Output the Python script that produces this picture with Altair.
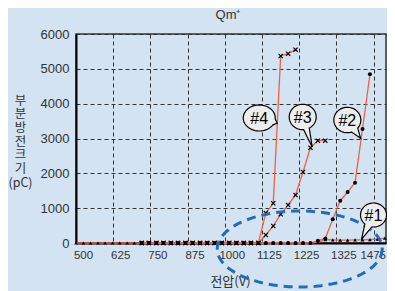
import math
import altair as alt
import pandas as pd

# ---------------- data ----------------
VOLT = [500, 525, 549, 574, 598, 623, 647, 672, 696, 721, 745, 770, 794, 819,
        843, 868, 892, 917, 941, 966, 990, 1015, 1039, 1064, 1088, 1113, 1138,
        1163, 1188, 1213, 1238, 1263, 1288, 1313, 1338, 1363, 1388, 1413, 1438,
        1463, 1488, 1513, 1538]

# series #1 (triangles) : VOLT[0:43]
S1 = [0, 0, 0, 0, 0, 0, 0, 0, 0, 0, 0, 0, 0, 0, 0, 0, 0, 0, 0, 0, 0, 0, 0, 0,
      0, 0, 0, 0, 0, 0, 0, 0, 0, 20, 100, 90, 80, 80, 90, 90, 100, 110, 140]
# series #2 (circles) : VOLT[9:41]
S2 = [0, 0, 0, 0, 0, 0, 0, 0, 0, 0, 0, 0, 0, 0, 0, 0, 0, 0, 0, 0, 0, 0, 0, 0,
      66, 130, 680, 1214, 1464, 1731, 3273, 4843]
# series #3 (crosses) : VOLT[9:35]
S3 = [0, 0, 0, 0, 0, 0, 0, 0, 0, 0, 0, 0, 0, 0, 0, 0, 0,
      230, 490, 824, 1091, 1378, 2039, 2736, 2937, 2937]
# series #4 (crosses) : VOLT[9:31]
S4 = [0, 0, 0, 0, 0, 0, 0, 0, 0, 0, 0, 0, 0, 0, 0, 0, 0,
      861, 1140, 5369, 5435, 5550]

X_TICKS = [500, 625, 750, 875, 1000, 1125, 1250, 1375, 1500]
X_LABELS = ["500", "625", "750", "875", "1000", "1125", "1225", "1325", "1475"]
Y_TICKS = [0, 1000, 2000, 3000, 4000, 5000, 6000]

BUBBLE_LABELS = ["#4", "#3", "#2", "#1"]
BUBBLE_V = [1116, 1262, 1412, 1500]
BUBBLE_PC = [3589, 3618, 3531, 804]

ELLIPSE_V = [1252]
ELLIPSE_PC = [-172]

# ---------------- styling ----------------
FONT = "Liberation Sans, Arial, sans-serif"
KFONT = "Noto Sans CJK KR, Noto Sans, sans-serif"
RED = "#ef6248"
BG = "#d3e3f2"
INK = "#333333"

rows = []
for name, vs, ps in [("#1", VOLT, S1), ("#2", VOLT[9:41], S2),
                     ("#3", VOLT[9:35], S3), ("#4", VOLT[9:31], S4)]:
    for v, p in zip(vs, ps):
        rows.append({"series": name, "v": v, "pc": p})
df = pd.DataFrame(rows)

label_expr = "[" + ",".join(f"'{s}'" for s in X_LABELS) + "][round((datum.value-500)/125)]"

xscale = alt.Scale(domain=[500, 1542], nice=False, zero=False)
yscale = alt.Scale(domain=[0, 6000], nice=False)

xaxis = alt.Axis(values=X_TICKS, labelExpr=label_expr, grid=True, gridDash=[4, 3],
                 gridColor=INK, gridWidth=1, domainColor="black", domainWidth=2,
                 ticks=False, labelPadding=6,
                 labelOffset={"condition": {"test": "datum.value >= 1500", "value": 12}, "value": 7},
                 labelAlign={"condition": {"test": "datum.value >= 1500", "value": "right"}, "value": "center"},
                 labelFont=FONT, labelFontSize=11.5, labelColor=INK,
                 title="전압(V)", titleFont=KFONT,
                 titleFontSize=13, titleFontWeight="normal", titleColor=INK,
                 titleX=154, titleY=42, titleBaseline="alphabetic", labelOverlap=False)
yaxis = alt.Axis(values=Y_TICKS, format="d", grid=True, gridDash=[4, 3], gridColor=INK,
                 gridWidth=1, domainColor="black", domainWidth=2, ticks=False,
                 labelPadding=7, labelFont=FONT, labelFontSize=13, labelColor=INK,
                 labelOverlap=False,
                 title=["부", "분", "방", "전", "크", "기", "(pC)"], titleAngle=0,
                 titleFont=KFONT, titleFontSize=12.5, titleFontWeight="normal",
                 titleColor=INK, titleX=-56, titleY=60, titleAlign="center",
                 titleBaseline="top", titleLineHeight=13.7)

X = alt.X("v:Q", scale=xscale, axis=xaxis)
Y = alt.Y("pc:Q", scale=yscale, axis=yaxis)

base = alt.Chart(df)
lines = base.mark_line(color=RED, strokeWidth=1.3).encode(x=X, y=Y, detail="series:N")
tri = base.transform_filter("datum.series == '#1'").mark_point(
    shape="triangle-up", filled=True, color="black", size=14, opacity=1).encode(x=X, y=Y)
circ = base.transform_filter("datum.series == '#2'").mark_point(
    shape="circle", filled=True, color="black", size=16, opacity=1).encode(x=X, y=Y)
cross = base.transform_filter("datum.series == '#3' || datum.series == '#4'").mark_point(
    shape="M-1,-1L1,1M-1,1L1,-1", filled=False, color="black", size=18,
    strokeWidth=1.2, opacity=1).encode(x=X, y=Y)

# dashed blue ellipse (annotation)
def ellipse_path(rx, ry, h, n=96):
    pts = [(rx * math.cos(2 * math.pi * i / n), ry * math.sin(2 * math.pi * i / n)) for i in range(n)]
    return "M" + " L".join(f"{x / h:.4f},{y / h:.4f}" for x, y in pts) + " Z"

ell_df = pd.DataFrame({"v": ELLIPSE_V, "pc": ELLIPSE_PC})
ellipse = alt.Chart(ell_df).mark_point(
    shape=ellipse_path(82.5, 38, 82.5), size=165 ** 2, filled=False, color="#1f6dbd",
    strokeWidth=3, strokeDash=[9, 6], opacity=1).encode(x=X, y=Y)

# speech bubbles
def bubble_path(rx, ry, tip, h, half=0.28, n=60):
    phi = math.atan2(tip[1] / ry, tip[0] / rx)
    a0, a1 = phi + half, phi + 2 * math.pi - half
    pts = [(rx * math.cos(a0 + (a1 - a0) * i / n), ry * math.sin(a0 + (a1 - a0) * i / n))
           for i in range(n + 1)]
    pts.append(tip)
    return "M" + " L".join(f"{x / h:.4f},{y / h:.4f}" for x, y in pts) + " Z"

BUBBLE_STYLE = [((16, 13), (18, 5), 0.25), ((13.5, 12.7), (9.5, 30), 0.22),
                ((13.5, 12.7), (13.3, 18.3), 0.28), ((13, 12), (-12, 24.3), 0.3)]

layers = [lines, tri, circ, cross, ellipse]
H = 16
for lab, v, p, (r, tip, half) in zip(BUBBLE_LABELS, BUBBLE_V, BUBBLE_PC, BUBBLE_STYLE):
    bdf = pd.DataFrame({"v": [v], "pc": [p], "label": [lab]})
    shape = bubble_path(r[0], r[1], tip, H, half)
    layers.append(alt.Chart(bdf).mark_point(
        shape=shape, size=(2 * H) ** 2, filled=True, fill="#ededed", stroke="black",
        strokeWidth=1.2, opacity=1, fillOpacity=1).encode(x=X, y=Y))
    layers.append(alt.Chart(bdf).mark_text(
        font=FONT, fontSize=16, color="black", align="center", baseline="middle", dy=1
    ).encode(x=X, y=Y, text="label:N"))

chart = alt.layer(*layers).properties(
    width=310, height=209,
    autosize="none",
    padding={"left": 68, "top": 26, "right": 1, "bottom": 48},
    background=BG,
    title=alt.TitleParams(text="Qm⁺", font=FONT, fontSize=13, fontWeight="normal",
                          color=INK, anchor="middle", offset=6, dx=-3),
).configure_view(stroke=INK, strokeWidth=1.5)

chart.save("out.html", embed_options={"renderer": "svg", "actions": False})
